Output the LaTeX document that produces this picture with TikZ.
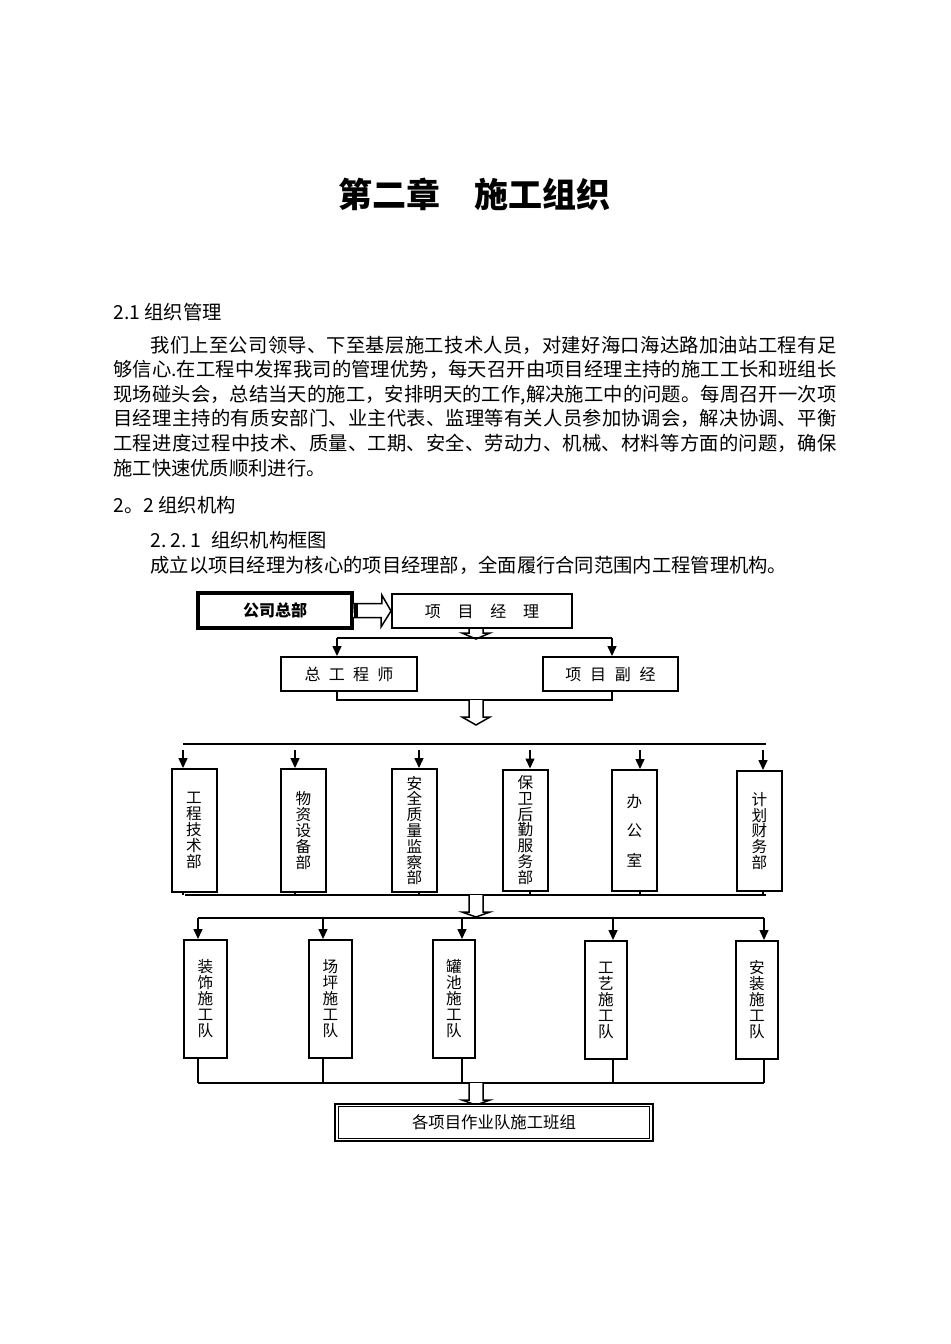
\documentclass[tikz,border=0pt]{standalone}
\usepackage{fontspec}
\setmainfont{Noto Sans CJK SC}
\usetikzlibrary{arrows.meta}
\XeTeXlinebreaklocale "zh"
\XeTeXlinebreakskip=0pt plus 1pt minus 0.1pt
\newcommand\hdown[3]{\draw[hollow] (#1) ++(-7,0) -- ++(0,#2) -- ++(-7,0) -- ++(14,#3) -- ++(14,-#3) -- ++(-7,0) -- ++(0,-#2);}
\begin{document}
\begin{tikzpicture}[x=0.5pt,y=-0.5pt,
  box/.style={draw,line width=1pt,inner sep=0pt,fill=white,font=\fontsize{8pt}{9pt}\selectfont},
  conn/.style={line width=0.75pt},
  arr/.style={conn,-{Triangle[length=5pt,width=4.5pt]}},
  hollow/.style={draw,line width=0.75pt,fill=white,line join=miter},
  vbox/.style={box,minimum width=22.5pt,align=center,font=\fontsize{7.8pt}{7.9pt}\selectfont},
  body/.style={font=\fontsize{9.65pt}{12.3pt}\selectfont,inner sep=0pt}
]
\fill[white] (0,0) rectangle (950,1344);
\useasboundingbox (0,0) rectangle (950,1344);

% ---------- text ----------
\node[anchor=base,inner sep=0pt,font=\fontsize{17pt}{20pt}\selectfont\bfseries] (title) at (474,207) {第二章　施工组织};
\node[body,anchor=base west] (h21) at (113,319) {2.1 组织管理};
\node[body,anchor=base west,text width=361.5pt,align=justify] (p1) at (113,352) {\noindent\hspace*{18.5pt}我们上至公司领导、下至基层施工技术人员，对建好海口海达路加油站工程有足\linebreak
够信心.在工程中发挥我司的管理优势，每天召开由项目经理主持的施工工长和班组长\linebreak
现场碰头会，总结当天的施工，安排明天的工作,解决施工中的问题。每周召开一次项\linebreak
目经理主持的有质安部门、业主代表、监理等有关人员参加协调会，解决协调、平衡\linebreak
工程进度过程中技术、质量、工期、安全、劳动力、机械、材料等方面的问题，确保\linebreak
施工快速优质顺利进行。};
\node[body,anchor=base west] (h22) at (113,512) {2。2 组织机构};
\node[body,anchor=base west] (h221) at (150,547) {2.\hspace{2pt}2.\hspace{2pt}1\hspace{5pt}组织机构框图};
\node[body,anchor=base west] (p2) at (150,572) {成立以项目经理为核心的项目经理部，全面履行合同范围内工程管理机构。};

% ---------- top boxes ----------
\node[box,line width=1.8pt,minimum width=77pt,minimum height=17.5pt,font=\fontsize{8pt}{9pt}\selectfont\bfseries] (hq) at (275,610.5) {公司总部};
\node[box,minimum width=90pt,minimum height=17pt] (pm) at (482,611) {项\hspace{8.35pt}目\hspace{8.35pt}经\hspace{8.35pt}理};
\node[box,minimum width=68pt,minimum height=17pt] (ce) at (349,674) {总\hspace{4.15pt}工\hspace{4.15pt}程\hspace{4.15pt}师};
\node[box,minimum width=67.5pt,minimum height=17pt] (dpm) at (610.5,674) {项\hspace{4.35pt}目\hspace{4.35pt}副\hspace{4.35pt}经};

% hq -> pm hollow arrow
\draw[hollow] (hq.east) ++(0,-7) -- ++(28,0) -- ++(0,-8.5) -- (pm.west) -- ++(-10,16) -- ++(0,-9.5) -- ++(-28,0);
\fill (hq.east) ++(0,-7) rectangle ++(4,14);

\coordinate (colx) at (476,0);
\coordinate (h1) at (pm.south -| colx);
\hdown{h1}{4}{6}

\coordinate (brL) at (337,638);
\coordinate (brR) at (612,638);
\draw[conn] (brL) -- (brR);
\draw[arr] (brL) -- (brL |- ce.north);
\draw[arr] (brR) -- (brR |- dpm.north);

\coordinate (mL) at (337,700);
\coordinate (mR) at (612,700);
\draw[conn] (mL |- ce.south) -- (mL) -- (mR) -- (mR |- dpm.south);
\coordinate (h2) at (476,700);
\hdown{h2}{17}{8}

% ---------- departments ----------
\node[vbox,minimum height=61.5pt] (d1) at (194,830.5) {工\\程\\技\\术\\部};
\node[vbox,minimum height=61.5pt] (d2) at (303.5,830.5) {物\\资\\设\\备\\部};
\node[vbox,minimum height=61.5pt] (d3) at (414.5,830.5) {安\\全\\质\\量\\监\\察\\部};
\node[vbox,minimum height=60.5pt] (d4) at (525.5,830) {保\\卫\\后\\勤\\服\\务\\部};
\node[vbox,minimum height=60.5pt,font=\fontsize{7.8pt}{14.75pt}\selectfont] (d5) at (634.5,830.5) {办\\公\\室};
\node[vbox,minimum height=60pt] (d6) at (759.5,831) {计\\划\\财\\务\\部};

\coordinate (bt1) at (183,744);
\coordinate (bt6) at (766,744);
\draw[conn] (bt1) -- (bt6);
\coordinate (bb1) at (185,895);
\coordinate (bb6) at (766,895);
\draw[conn] (bb1) -- (bb6);
\foreach \n/\x in {1/183,2/295,3/419,4/530,5/640,6/763} {
  \coordinate (da\n) at (\x,750);
  \draw[arr] (da\n) -- (da\n |- d\n.north);
  \draw[conn] (da\n |- d\n.south) -- (da\n |- bb1);
}
\coordinate (h3) at (476,895);
\hdown{h3}{17}{5}

% ---------- teams ----------
\tikzset{tbox/.style={vbox,minimum height=59pt,font=\fontsize{7.8pt}{8pt}\selectfont}}
\node[tbox,minimum width=21.5pt] (t1) at (205.5,999) {装\\饰\\施\\工\\队};
\node[tbox,minimum width=21.5pt] (t2) at (330.5,999) {场\\坪\\施\\工\\队};
\node[tbox,minimum width=21pt] (t3) at (454,999) {罐\\池\\施\\工\\队};
\node[tbox,minimum width=21pt] (t4) at (606,1000) {工\\艺\\施\\工\\队};
\node[tbox,minimum width=21pt] (t5) at (757,1000) {安\\装\\施\\工\\队};

\coordinate (tb1) at (198,918);
\coordinate (tb5) at (764,918);
\draw[conn] (tb1) -- (tb5);
\coordinate (tc1) at (198,1083);
\coordinate (tc5) at (764,1083);
\draw[conn] (tc1) -- (tc5);
\foreach \n/\x in {1/198,2/323,3/462,4/613,5/764} {
  \coordinate (ta\n) at (\x,918);
  \draw[arr] (ta\n) -- (ta\n |- t\n.north);
  \draw[conn] (ta\n |- t\n.south) -- (ta\n |- tc1);
}
\coordinate (h4) at (476,1083);
\hdown{h4}{17}{5}

% ---------- bottom box ----------
\node[draw,line width=1.3pt,inner sep=0pt,fill=white,minimum width=159pt,minimum height=18.5pt,font=\fontsize{8.2pt}{9pt}\selectfont] (bot) at (494,1122.5) {各项目作业队施工班组};
\draw[line width=0.6pt] ([shift={(5,4)}]bot.north west) rectangle ([shift={(-5,-4)}]bot.south east);
\end{tikzpicture}
\end{document}
